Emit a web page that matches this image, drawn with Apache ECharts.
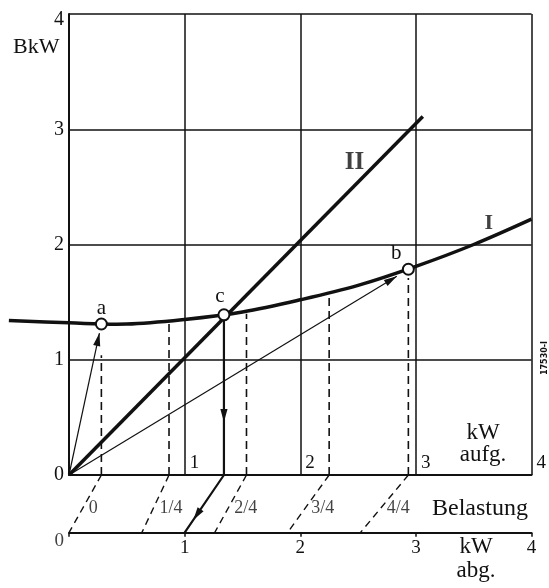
<!DOCTYPE html>
<html><head><meta charset="utf-8">
<script src="https://cdn.jsdelivr.net/npm/echarts@6/dist/echarts.min.js"></script>
<style>html,body{margin:0;padding:0;background:#fff}#c{width:549px;height:588px}</style>
</head><body><div id="c"></div>
<script>
// ---- data ----
const xTicks = [0, 1, 2, 3, 4];
const yTicks = [0, 1, 2, 3, 4];
const curveI = [[-0.52,1.34],[0,1.32],[0.5,1.31],[1.0,1.35],[1.5,1.415],[2.0,1.52],[2.5,1.645],[3.0,1.81],[3.5,2.0],[4.0,2.22]];
const lineII = [[0,0],[3.06,3.11]];
const pointNames = ['a','c','b'];
const pointValues = [[0.28,1.31],[1.34,1.39],[2.935,1.785]];
const loadLabels = ['0','1/4','2/4','3/4','4/4'];
const loadInputKW = [0.28,0.865,1.535,2.25,2.935];
const loadOutputKW = [0,0.63,1.26,1.89,2.52];
const loadDashTop = [1.04,1.32,1.40,1.57,1.71];
const cOutputKW = 1.0;
const LOWER_AXIS_Y = -0.5;   // baseline of "kW abg." scale in BkW units

// ---- layout ----
const G = {left:69, top:14, width:467, height:461};
const FONT = 'Liberation Serif';
const INK = '#111';
const lowerOffset = -LOWER_AXIS_Y / (yTicks[yTicks.length-1]-yTicks[0]) * G.height;

const series = [];
// curve I (custom so it can run past the left axis)
series.push({type:'custom', clip:false, z:5, data:curveI, encode:{x:0, y:1},
  renderItem:(params, api)=>{
    if (params.dataIndex !== 0) return null;
    const pts = curveI.map(p=>api.coord(p));
    return {type:'polyline', shape:{points:pts, smooth:0.35}, style:{stroke:INK, lineWidth:3.5, fill:null}};
  }});
// line II
series.push({type:'line', data:lineII, symbol:'none', clip:false, z:5, lineStyle:{color:INK, width:3.5}});
// dashed verticals and fan lines
loadInputKW.forEach((x,i)=>{
  series.push({type:'line', data:[[x,0],[x,loadDashTop[i]]], symbol:'none', clip:false, z:3,
    lineStyle:{color:INK, width:1.6, type:[8,5]}});
  series.push({type:'line', data:[[x,0],[loadOutputKW[i],LOWER_AXIS_Y]], symbol:'none', clip:false, z:3,
    lineStyle:{color:INK, width:1.4, type:[7,5]}});
});
// solid path from c
const c = pointValues[1];
series.push({type:'line', data:[[c[0],c[1]],[c[0],0],[cOutputKW,LOWER_AXIS_Y]], symbol:'none', clip:false, z:4,
  lineStyle:{color:INK, width:2.2}});
// thin rays from origin to a, b
const a = pointValues[0], b = pointValues[2];
const tipA = [a[0]*0.94, a[1]*0.94];
const tipB = [b[0]*0.966, b[1]*0.966];
series.push({type:'line', data:[[0,0],tipA], symbol:'none', clip:false, z:4, lineStyle:{color:INK, width:1.2}});
series.push({type:'line', data:[[0,0],tipB], symbol:'none', clip:false, z:4, lineStyle:{color:INK, width:1.2}});
// arrowheads
const slantT = 0.78;
const arrowData = [
  [0,0,tipA[0],tipA[1]],
  [0,0,tipB[0],tipB[1]],
  [c[0],c[1],c[0],0.46],
  [c[0],0,c[0]+(cOutputKW-c[0])*slantT, LOWER_AXIS_Y*slantT]
];
series.push({type:'custom', clip:false, z:6, data:arrowData, encode:{x:[0,2], y:[1,3]},
  renderItem:(params, api)=>{
    const p1 = api.coord([api.value(0), api.value(1)]);
    const p2 = api.coord([api.value(2), api.value(3)]);
    const dx=p2[0]-p1[0], dy=p2[1]-p1[1], L=Math.hypot(dx,dy);
    const ux=dx/L, uy=dy/L, len=13, w=3.6;
    const bx=p2[0]-ux*len, by=p2[1]-uy*len;
    return {type:'polygon', shape:{points:[[p2[0],p2[1]],[bx-uy*w,by+ux*w],[bx+uy*w,by-ux*w]]},
      style:{fill:INK}};
  }});
// points a, c, b
const pointOffsets = {a:[0,2], c:[-4,0], b:[-12,2]};
series.push({type:'scatter', clip:false, z:10, symbol:'circle', symbolSize:11,
  itemStyle:{color:'#fff', borderColor:INK, borderWidth:2, opacity:1},
  data: pointValues.map((v,i)=>({value:v, name:pointNames[i],
    label:{show:true, position:'top', distance:1, offset:pointOffsets[pointNames[i]], formatter:pointNames[i],
      fontFamily:FONT, fontSize:21, color:INK}}))});
// curve names
series.push({type:'scatter', clip:false, z:10, symbolSize:0, data:[
  {value:[3.63,2.18], label:{show:true, position:'inside', formatter:'I', fontFamily:FONT, fontWeight:'bold', fontSize:22, color:INK}},
  {value:[2.47,2.71], label:{show:true, position:'inside', formatter:'II', fontFamily:FONT, fontWeight:'bold', fontSize:25, color:INK}}
]});
// load labels on fan lines
const labT = 0.573;
series.push({type:'scatter', clip:false, z:10, symbolSize:0,
  data: loadLabels.map((t,i)=>({value:[loadInputKW[i]+(loadOutputKW[i]-loadInputKW[i])*labT, LOWER_AXIS_Y*labT],
    label:{show:true, position:'right', distance:6, formatter:t, fontFamily:FONT, fontSize:18, color:INK}}))});
// lower scale origin label
series.push({type:'scatter', clip:false, z:10, symbolSize:0,
  data:[{value:[0,LOWER_AXIS_Y], label:{show:true, position:'left', distance:5, offset:[0,8], formatter:'0', fontFamily:FONT, fontSize:19, color:INK}}]});

const option = {
  animation:false,
  backgroundColor:'#fff',
  grid:G,
  xAxis:[
    {type:'value', min:xTicks[0], max:xTicks[xTicks.length-1], interval:1,
     axisLine:{lineStyle:{color:INK, width:2}}, axisTick:{show:false},
     splitLine:{lineStyle:{color:INK, width:1.5}},
     axisLabel:{inside:true, align:'left', margin:2, padding:[0,0,0,5], fontFamily:FONT, fontSize:19, color:INK,
       formatter:v=> v===0 ? '' : String(v)}},
    {type:'value', position:'bottom', offset:lowerOffset, min:xTicks[0], max:xTicks[xTicks.length-1], interval:1,
     axisLine:{lineStyle:{color:INK, width:2}}, axisTick:{show:true, length:4, lineStyle:{color:INK, width:1.5}},
     splitLine:{show:false},
     axisLabel:{margin:6, fontFamily:FONT, fontSize:19, color:INK, formatter:v=> v===0 ? '' : String(v)}}
  ],
  yAxis:{type:'value', min:yTicks[0], max:yTicks[yTicks.length-1], interval:1,
     axisLine:{show:true, lineStyle:{color:INK, width:2}}, axisTick:{show:false},
     splitLine:{lineStyle:{color:INK, width:1.5}},
     axisLabel:{margin:5, fontFamily:FONT, fontSize:20, color:INK,
       formatter:v=> v===yTicks[yTicks.length-1] ? '{t|'+v+'}' : String(v),
       rich:{t:{fontFamily:FONT, fontSize:20, color:INK, padding:[12,0,0,0]}}}},
  graphic:[
    {type:'text', left:13, top:36, style:{text:'BkW', font:'22px "Liberation Serif"', fill:INK}},
    {type:'text', x:483, y:422, style:{text:'kW\naufg.', font:'23px "Liberation Serif"', fill:INK, textAlign:'center', lineHeight:22}},
    {type:'text', x:432, y:497, style:{text:'Belastung', font:'24px "Liberation Serif"', fill:INK}},
    {type:'text', x:476, y:535, style:{text:'kW\nabg.', font:'23px "Liberation Serif"', fill:INK, textAlign:'center', lineHeight:24}},
    {type:'text', x:545, y:358, rotation:Math.PI/2, style:{text:'17530-I', font:'bold 8px "DejaVu Sans"', fill:INK, textAlign:'center', textVerticalAlign:'middle'}}
  ],
  series:series
};
const chart = echarts.init(document.getElementById('c'), null, {renderer:'canvas'});
chart.setOption(option);
</script></body></html>
